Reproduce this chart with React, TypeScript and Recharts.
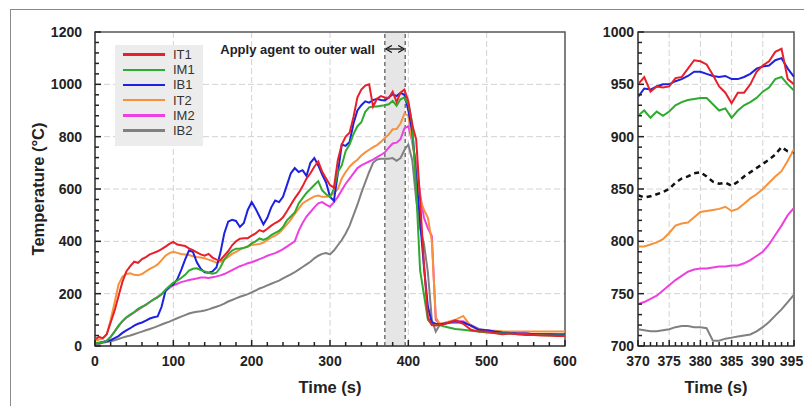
import React from 'react'
import {
  LineChart,
  Line,
  XAxis,
  YAxis,
  CartesianGrid,
  ReferenceArea,
  ReferenceLine,
  Legend,
} from 'recharts'

const FONT = '"Liberation Sans", Arial, sans-serif'

// --- main panel: whole test, 0–600 s ---
const mainTime = [
  0, 5, 10, 15, 20, 25, 30, 35, 40, 45,
  50, 55, 60, 65, 70, 75, 80, 85, 90, 95,
  100, 105, 110, 115, 120, 125, 130, 135, 140, 145,
  150, 155, 160, 165, 170, 175, 180, 185, 190, 195,
  200, 205, 210, 215, 220, 225, 230, 235, 240, 245,
  250, 255, 260, 265, 270, 275, 280, 285, 290, 295,
  300, 305, 310, 315, 320, 325, 330, 335, 340, 345,
  350, 355, 360, 365, 370, 375, 380, 385, 390, 395,
  400, 405, 410, 415, 420, 425, 430, 435, 440, 445,
  450, 460, 470, 480, 490, 500, 510, 520, 530, 540,
  550, 560, 570, 580, 590, 600,
]

const IT1 = [
  25, 35, 30, 45, 90, 135, 190, 245, 285, 305,
  322, 318, 332, 340, 350, 356, 362, 370, 380, 390,
  398, 388, 385, 382, 373, 366, 358, 350, 345, 352,
  338, 330, 328, 345, 362, 385, 400, 410, 412, 412,
  422, 430, 443, 437, 448, 460, 470, 478, 492, 515,
  540, 564, 585, 610, 640, 660, 685, 705, 666, 640,
  615, 605, 710, 770, 800, 815, 875, 950, 980, 995,
  1000, 915, 945, 955, 950, 948, 972, 932, 968, 980,
  935, 845, 790, 560, 310, 110, 80, 78, 80, 82,
  88, 98, 85, 62, 55, 55, 50, 45, 48, 45,
  42, 42, 40, 40, 38, 38,
]

const IM1 = [
  10, 12, 15, 20, 35, 55, 78, 95, 110, 120,
  130, 142, 150, 157, 168, 178, 186, 198, 215, 228,
  242, 250, 260, 272, 288, 295, 297, 290, 285, 280,
  276, 280, 300, 330, 350, 365, 372, 373, 375, 380,
  392, 400, 411, 405, 412, 424, 432, 440, 455, 480,
  495, 510, 545, 565, 585, 600, 615, 630, 595, 580,
  570, 600, 665, 690, 745, 770, 810, 840, 855, 895,
  912, 915, 915, 918, 920, 924, 937, 918, 943, 950,
  925, 850, 600, 290, 195, 100, 82, 80, 80, 75,
  72, 65, 62, 58, 55, 52, 50, 48, 48, 45,
  45, 42, 42, 40, 40, 40,
]

const IB1 = [
  10, 12, 15, 18, 22, 30, 38, 50, 60, 68,
  78, 85, 90, 97, 105, 110, 113, 150, 210, 228,
  235, 255, 290, 330, 365, 360, 320, 295, 282, 280,
  285, 300, 355, 430, 475, 482, 478, 455, 470, 520,
  550, 525, 495, 465, 490, 530, 556, 550, 570, 615,
  660, 680, 665, 672, 650, 700, 718, 690, 655, 625,
  570, 555, 660, 770, 765, 780, 850, 900, 920, 935,
  930, 940, 945, 940, 938, 950, 962, 955, 967, 960,
  900, 820, 650, 480, 300, 150, 90, 85, 82, 85,
  88, 95, 90, 78, 62, 60, 55, 52, 50, 48,
  48, 45, 45, 45, 45, 45,
]

const IT2 = [
  20, 25, 28, 45, 100, 165, 235, 265, 275, 278,
  272, 270, 275, 285, 295, 302, 312, 328, 345, 355,
  360, 356, 352, 350, 348, 343, 340, 338, 335, 330,
  325, 318, 322, 330, 340, 352, 360, 368, 375, 380,
  386, 388, 390, 395, 405, 415, 422, 432, 448, 465,
  483, 505, 525, 545, 555, 563, 572, 575, 570, 570,
  572, 585, 600, 640, 665, 685, 700, 712, 728, 740,
  750, 760, 768, 780, 795, 808, 828, 829, 850, 888,
  880, 780, 680, 560, 520, 490, 400, 110, 85, 88,
  92, 100, 115, 75, 62, 60, 58, 56, 55, 55,
  55, 55, 55, 55, 55, 55,
]

const IM2 = [
  10, 12, 15, 20, 35, 55, 75, 95, 108, 118,
  128, 138, 148, 158, 168, 178, 188, 198, 210, 222,
  232, 238, 244, 248, 252, 255, 258, 262, 262, 260,
  263, 266, 270, 275, 282, 290, 298, 305, 310, 316,
  320, 326, 332, 338, 345, 350, 355, 362, 370, 380,
  390, 400, 440, 470, 495, 512, 530, 545, 550, 540,
  532, 550, 570, 595, 620, 640, 660, 680, 690, 698,
  705, 712, 722, 730, 740, 758, 774, 777, 790, 832,
  840, 780, 700, 580, 490, 450, 420, 100, 85, 85,
  88, 95, 95, 80, 62, 58, 55, 52, 50, 48,
  48, 45, 45, 45, 42, 42,
]

const IB2 = [
  5, 8, 12, 15, 18, 22, 27, 32, 36, 40,
  45, 50, 55, 60, 65, 70, 76, 82, 88, 93,
  100, 106, 112, 118, 124, 128, 131, 133, 136, 140,
  145, 150, 155, 162, 170, 176, 182, 188, 193, 198,
  205, 212, 220, 225, 232, 238, 244, 250, 258, 266,
  274, 282, 292, 302, 312, 322, 335, 345, 352, 355,
  350, 365, 385, 405, 430, 460, 500, 540, 585, 625,
  665, 700, 713, 716, 716, 716, 718, 708, 718, 749,
  770, 710, 560, 450, 390, 280, 100, 55, 80, 85,
  88, 90, 88, 80, 65, 60, 55, 52, 50, 48,
  48, 45, 45, 45, 42, 42,
]

// --- right panel: close-up of the agent application window ---
const insetTime = [
  370, 371, 372, 373, 374, 375, 376, 377, 378, 379, 380, 381, 382,
  383, 384, 385, 386, 387, 388, 389, 390, 391, 392, 393, 394, 395,
]
const insetIT1 = [950, 957, 943, 948, 947, 948, 956, 957, 965, 973, 972, 969, 959, 948, 942, 932, 942, 942, 950, 962, 968, 972, 981, 984, 955, 950]
const insetIM1 = [920, 925, 918, 924, 920, 924, 930, 933, 935, 936, 937, 937, 931, 925, 927, 918, 925, 930, 933, 937, 943, 947, 955, 957, 950, 944]
const insetIB1 = [938, 946, 945, 948, 950, 950, 953, 955, 958, 962, 962, 960, 958, 957, 958, 955, 955, 957, 960, 965, 967, 968, 973, 975, 965, 957]
const insetIT2 = [795, 795, 797, 799, 802, 808, 815, 817, 818, 823, 828, 829, 830, 831, 833, 829, 831, 836, 841, 845, 850, 856, 862, 867, 877, 888]
const insetIM2 = [740, 742, 745, 748, 753, 758, 763, 767, 771, 773, 774, 774, 775, 776, 776, 777, 777, 779, 782, 786, 790, 797, 806, 815, 825, 832]
const insetIB2 = [716, 715, 714, 714, 715, 716, 718, 719, 719, 718, 718, 717, 705, 705, 707, 708, 709, 710, 711, 714, 718, 723, 729, 735, 742, 749]
const insetMean = [844, 842, 843, 845, 847, 850, 856, 860, 862, 865, 866, 862, 857, 855, 856, 853, 857, 862, 866, 870, 874, 878, 883, 890, 886, 885]

// window in which the agent is sprayed on the outer wall (s)
const agentStart = 370
const agentEnd = 396

// tick values
const mainXMajor = [0, 100, 200, 300, 400, 500, 600]
const mainYMajor = [0, 200, 400, 600, 800, 1000, 1200]
const insetXMajor = [370, 375, 380, 385, 390, 395]
const insetYMajor = [700, 750, 800, 850, 900, 950, 1000]

const range = (from: number, to: number, step: number) =>
  Array.from({ length: Math.round((to - from) / step) + 1 }, (_, i) => from + i * step)

// all tick positions (minor + major)
const mainXTicks = range(0, 600, 20)
const mainYTicks = range(0, 1200, 40)
const insetXTicks = range(370, 395, 1)
const insetYTicks = range(700, 1000, 10)

const seriesDefs = [
  { key: 'IT1', color: '#e8202a' },
  { key: 'IM1', color: '#2eaa2e' },
  { key: 'IB1', color: '#1c22e0' },
  { key: 'IT2', color: '#f7913a' },
  { key: 'IM2', color: '#ee3fe0' },
  { key: 'IB2', color: '#808080' },
]

const mainData = mainTime.map((t, i) => ({
  t,
  IT1: IT1[i],
  IM1: IM1[i],
  IB1: IB1[i],
  IT2: IT2[i],
  IM2: IM2[i],
  IB2: IB2[i],
}))

const insetData = insetTime.map((t, i) => ({
  t,
  IT1: insetIT1[i],
  IM1: insetIM1[i],
  IB1: insetIB1[i],
  IT2: insetIT2[i],
  IM2: insetIM2[i],
  IB2: insetIB2[i],
  mean: insetMean[i],
}))

const tickText = { fontFamily: FONT, fontSize: 14, fontWeight: 700, fill: '#222' }
const AXIS_COLOR = '#555'
const TICK_COLOR = '#222'

// ticks point into the plot, labels only on major values
const makeXTick = (majors: number[], margin: number, maxLabelX = Infinity) => (props: any) => {
  const { x, y, payload } = props
  const major = majors.includes(payload.value)
  const axisY = y - margin
  return (
    <g>
      <line x1={x} x2={x} y1={axisY} y2={axisY - (major ? 6 : 4)} stroke={TICK_COLOR} strokeWidth={1.5} />
      {major && (
        <text x={Math.min(x, maxLabelX)} y={y} dy="0.71em" textAnchor="middle" style={tickText}>
          {payload.value}
        </text>
      )}
    </g>
  )
}

const makeYTick = (majors: number[], margin: number) => (props: any) => {
  const { x, y, payload } = props
  const major = majors.includes(payload.value)
  const axisX = x + margin
  return (
    <g>
      <line x1={axisX} x2={axisX + (major ? 6 : 4)} y1={y} y2={y} stroke={TICK_COLOR} strokeWidth={1.5} />
      {major && (
        <text x={x} y={y} dy="0.36em" textAnchor="end" style={tickText}>
          {payload.value}
        </text>
      )}
    </g>
  )
}

const XTitle = (props: any) => {
  const { viewBox } = props
  const cx = viewBox.x + viewBox.width / 2
  const cy = viewBox.y + 41
  return (
    <text x={cx} y={cy} textAnchor="middle" dominantBaseline="central"
      style={{ fontFamily: FONT, fontSize: 16.5, fontWeight: 700, fill: '#222' }}>
      Time (s)
    </text>
  )
}

const YTitle = (props: any) => {
  const { viewBox } = props
  const cx = viewBox.x + 3
  const cy = viewBox.y + viewBox.height / 2
  return (
    <text x={cx} y={cy} transform={`rotate(-90, ${cx}, ${cy})`} textAnchor="middle" dominantBaseline="central"
      style={{ fontFamily: FONT, fontSize: 16.5, fontWeight: 700, fill: '#222' }}>
      Temperature (°C)
    </text>
  )
}

const AgentNote = (props: any) => {
  const { viewBox } = props
  const { x, y, width } = viewBox
  const ay = y + 17
  return (
    <g>
      <line x1={x + 3} x2={x + width - 3} y1={ay} y2={ay} stroke="#111" strokeWidth={1.3} />
      <path d={`M${x + 7},${ay - 3.5} L${x + 1},${ay} L${x + 7},${ay + 3.5}`} fill="none" stroke="#111" strokeWidth={1.3} />
      <path d={`M${x + width - 7},${ay - 3.5} L${x + width - 1},${ay} L${x + width - 7},${ay + 3.5}`} fill="none" stroke="#111" strokeWidth={1.3} />
      <text x={x - 10} y={ay} dy="0.36em" textAnchor="end"
        style={{ fontFamily: FONT, fontSize: 13, fontWeight: 700, fill: '#222' }}>
        Apply agent to outer wall
      </text>
    </g>
  )
}

const renderLegend = (props: any) => {
  const payload = props.payload || []
  const ordered = seriesDefs
    .map((s) => payload.find((p: any) => p.value === s.key))
    .filter(Boolean)
  return (
    <div style={{ background: '#ececec', padding: '2px 8px 8px 8px', fontFamily: FONT }}>
      {ordered.map((e: any) => (
        <div key={e.value} style={{ display: 'flex', alignItems: 'center', height: 15.2 }}>
          <span style={{ display: 'inline-block', width: 42, height: 2.5, background: e.color, marginRight: 8 }} />
          <span style={{ fontSize: 13, color: '#333', lineHeight: '15px' }}>{e.value}</span>
        </div>
      ))}
    </div>
  )
}

const drawOrder = [...seriesDefs].reverse()

const MainPanel = () => (
  <LineChart width={580} height={406} data={mainData} margin={{ top: 32, right: 15, bottom: 0, left: 35 }}>
    <CartesianGrid stroke="#d2d2d2" strokeDasharray="6 3"
      verticalValues={[100, 200, 300, 400, 500]} horizontalValues={[200, 400, 600, 800, 1000]} />
    <ReferenceArea x1={agentStart} x2={agentEnd} fill="#e6e6e6" fillOpacity={1} stroke="none"
      label={<AgentNote />} />
    <ReferenceLine x={agentStart} stroke="#555" strokeDasharray="4 3" strokeWidth={1.2} />
    <ReferenceLine x={agentEnd} stroke="#555" strokeDasharray="4 3" strokeWidth={1.2} />
    <XAxis dataKey="t" type="number" domain={[0, 600]} ticks={mainXTicks} interval={0}
      tickSize={0} tickMargin={10} tickLine={false} tick={makeXTick(mainXMajor, 10)}
      axisLine={{ stroke: AXIS_COLOR, strokeWidth: 1.5 }} height={60} allowDataOverflow
      label={<XTitle />} />
    <YAxis type="number" domain={[0, 1200]} ticks={mainYTicks} interval={0}
      tickSize={0} tickMargin={13} tickLine={false} tick={makeYTick(mainYMajor, 13)}
      axisLine={{ stroke: AXIS_COLOR, strokeWidth: 1.5 }} width={60} allowDataOverflow
      label={<YTitle />} />
    {drawOrder.map((s) => (
      <Line key={s.key} dataKey={s.key} name={s.key} stroke={s.color} strokeWidth={2}
        dot={false} type="linear" isAnimationActive={false} />
    ))}
    <ReferenceArea x1={0} x2={600} y1={0} y2={1200} fill="none" stroke={AXIS_COLOR} strokeWidth={1.5} />
    <Legend layout="vertical" align="center" verticalAlign="middle" content={renderLegend}
      wrapperStyle={{ left: 115, top: 45, width: 88 }} />
  </LineChart>
)

const InsetPanel = () => (
  <LineChart width={224} height={406} data={insetData} margin={{ top: 32, right: 10, bottom: 0, left: 0 }}>
    <CartesianGrid stroke="#d2d2d2" strokeDasharray="6 3"
      verticalValues={[375, 380, 385, 390]} horizontalValues={[750, 800, 850, 900, 950]} />
    <XAxis dataKey="t" type="number" domain={[370, 395]} ticks={insetXTicks} interval={0}
      tickSize={0} tickMargin={10} tickLine={false} tick={makeXTick(insetXMajor, 10, 211.5)}
      axisLine={{ stroke: AXIS_COLOR, strokeWidth: 1.5 }} height={60} allowDataOverflow
      label={<XTitle />} />
    <YAxis type="number" domain={[700, 1000]} ticks={insetYTicks} interval={0}
      tickSize={0} tickMargin={4} tickLine={false} tick={makeYTick(insetYMajor, 4)}
      axisLine={{ stroke: AXIS_COLOR, strokeWidth: 1.5 }} width={58} allowDataOverflow />
    <Line dataKey="mean" stroke="#111" strokeWidth={2.5} strokeDasharray="5 4"
      dot={false} type="linear" isAnimationActive={false} />
    {drawOrder.map((s) => (
      <Line key={s.key} dataKey={s.key} stroke={s.color} strokeWidth={2}
        dot={false} type="linear" isAnimationActive={false} />
    ))}
    <ReferenceArea x1={370} x2={395} y1={700} y2={1000} fill="none" stroke={AXIS_COLOR} strokeWidth={1.5} />
  </LineChart>
)

export default function App() {
  return (
    <div style={{ position: 'absolute', left: 0, top: 0, width: 804, height: 406, overflow: 'hidden', background: '#fff', fontFamily: FONT }}>
      <div style={{ position: 'absolute', left: 10, top: 9, width: 840, height: 440, borderLeft: '1.5px solid #8a8a8a', borderTop: '1.5px solid #8a8a8a' }} />
      <div style={{ position: 'absolute', left: 0, top: 0 }}>
        <MainPanel />
      </div>
      <div style={{ position: 'absolute', left: 580, top: 0 }}>
        <InsetPanel />
      </div>
    </div>
  )
}
